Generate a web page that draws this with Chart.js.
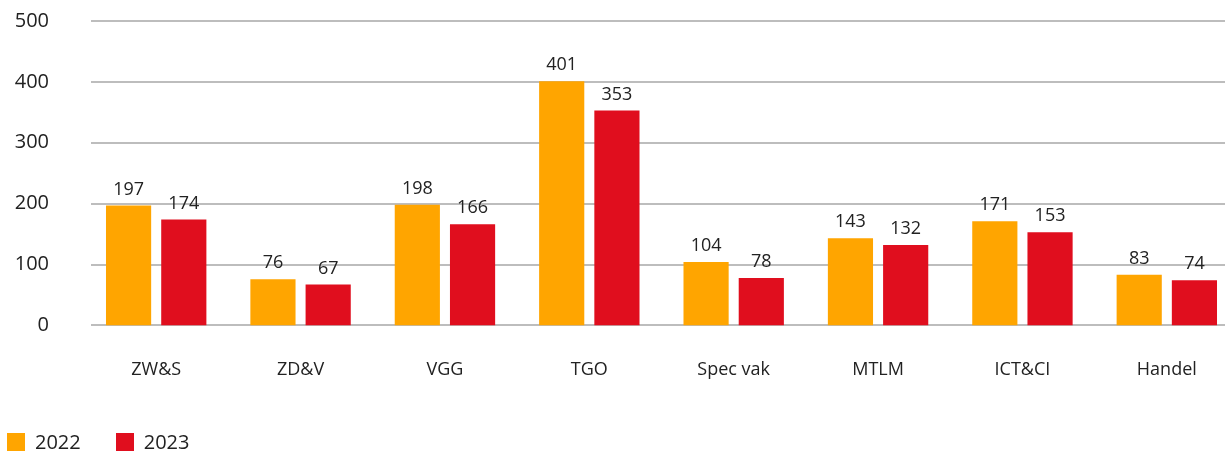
<!DOCTYPE html>
<html>
<head>
<meta charset="utf-8">
<script src="https://cdn.jsdelivr.net/npm/chart.js@4"></script>
<style>
  body { margin: 0; background: #fff; overflow: hidden; }
  #wrap { position: relative; width: 1225px; height: 453px; overflow: hidden; }
  #legend { position: absolute; left: 7px; top: 428px; font-family: "Open Sans", sans-serif; font-size: 20px; color: #222; display: flex; }
  #legend .item { display: flex; align-items: center; margin-right: 35px; }
  #legend .box { width: 18px; height: 18px; margin-right: 10px; }
</style>
</head>
<body>
<div id="wrap">
  <canvas id="barChart" width="1239" height="453"></canvas>
  <div id="legend"></div>
</div>
<script>
// categorieën en waarden
var labels = ['ZW&S', 'ZD&V', 'VGG', 'TGO', 'Spec vak', 'MTLM', 'ICT&CI', 'Handel'];
var values2022 = [197, 76, 198, 401, 104, 143, 171, 83];
var values2023 = [174, 67, 166, 353, 78, 132, 153, 74];
var yTicks = [0, 100, 200, 300, 400, 500];

var kleur2022 = 'rgb(255, 165, 0)';
var kleur2023 = 'rgb(224, 14, 30)';
var tekst = '#222';

var data = {
    labels: labels,
    datasets: [{
        label: '2022',
        backgroundColor: kleur2022,
        data: values2022
    }, {
        label: '2023',
        backgroundColor: kleur2023,
        data: values2023
    }]
};

// rasterlijnen zelf tekenen (beginnen iets rechts van de as)
var gridPlugin = {
    id: 'gridLines',
    beforeDatasetsDraw: function (chart) {
        var ctx = chart.ctx;
        var y = chart.scales.y;
        ctx.save();
        ctx.strokeStyle = '#bdbdbd';
        ctx.lineWidth = 2;
        yTicks.forEach(function (v) {
            var py = Math.round(y.getPixelForValue(v));
            ctx.beginPath();
            ctx.moveTo(91, py);
            ctx.lineTo(chart.width, py);
            ctx.stroke();
        });
        ctx.restore();
    }
};

// waarden boven de staven
var labelPlugin = {
    id: 'barValues',
    afterDatasetsDraw: function (chart) {
        var ctx = chart.ctx;
        ctx.save();
        ctx.font = '18px "Open Sans"';
        ctx.fillStyle = tekst;
        ctx.textAlign = 'center';
        ctx.textBaseline = 'bottom';
        chart.data.datasets.forEach(function (ds, i) {
            chart.getDatasetMeta(i).data.forEach(function (bar, j) {
                ctx.fillText(ds.data[j], bar.x, bar.y - 7);
            });
        });
        ctx.restore();
    }
};

var config = {
    type: 'bar',
    data: data,
    options: {
        responsive: false,
        animation: false,
        devicePixelRatio: 1,
        categoryPercentage: 0.765,
        barPercentage: 0.818,
        layout: { padding: { top: 21, bottom: 46, right: 0, left: 0 } },
        plugins: {
            legend: { display: false },
            tooltip: { enabled: false }
        },
        scales: {
            x: {
                grid: { display: false },
                border: { display: false },
                ticks: {
                    color: tekst,
                    padding: 26,
                    font: { family: 'Open Sans', size: 18 }
                }
            },
            y: {
                min: 0,
                max: 500,
                grid: { display: false, drawTicks: false },
                border: { display: false },
                ticks: {
                    stepSize: 100,
                    color: tekst,
                    padding: 35,
                    font: { family: 'Open Sans', size: 20 }
                },
                afterFit: function (scale) {
                    scale.width = 84;
                    scale.paddingTop = 0;
                    scale.paddingBottom = 0;
                }
            }
        }
    },
    plugins: [gridPlugin, labelPlugin]
};

var barChart = new Chart(document.getElementById('barChart'), config);

// legenda
var legend = document.getElementById('legend');
data.datasets.forEach(function (ds) {
    var item = document.createElement('div');
    item.className = 'item';
    var box = document.createElement('span');
    box.className = 'box';
    box.style.background = ds.backgroundColor;
    var txt = document.createElement('span');
    txt.textContent = ds.label;
    item.appendChild(box);
    item.appendChild(txt);
    legend.appendChild(item);
});
</script>
</body>
</html>
